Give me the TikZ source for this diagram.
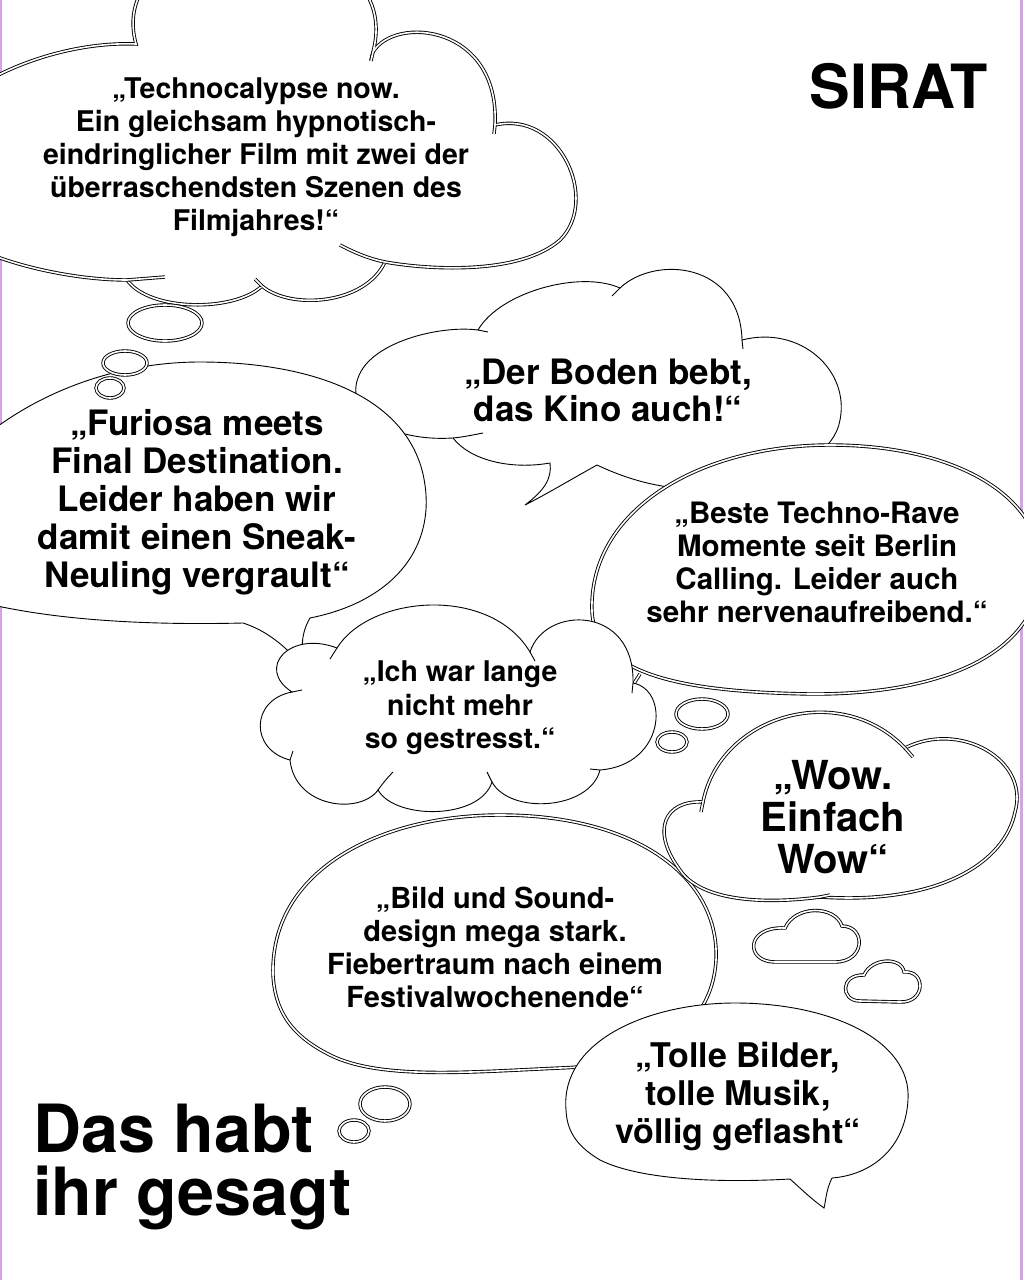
\documentclass[tikz,border=0pt]{standalone}
\usepackage{fontspec}
\setmainfont{TeX Gyre Heros}
\definecolor{lilac}{RGB}{214,160,238}
\newcommand{\qfont}[2]{\fontsize{#1}{#2}\selectfont\bfseries}
\tikzstyle{quote} = [
  align=center,
  inner sep=0pt,
]
\tikzstyle{cloud} = [
  draw,
  fill=white,
  line width=0.9pt,
]
\tikzstyle{doublecloud} = [
  draw,
  fill=white,
  double,
  double distance=1.6pt,
  line width=0.9pt,
]
\tikzstyle{hook} = [
  draw,
  double,
  double distance=1.6pt,
  line width=0.9pt,
]
\tikzstyle{thinhook} = [
  draw,
  line width=0.9pt,
]
\tikzstyle{edgeline} = [
  draw=lilac,
  line width=2.5pt,
]

\begin{document}
\begin{tikzpicture}[
    x=1pt,
    y=-1pt,
  ]
  \useasboundingbox (0,0) rectangle (1024,1280);
  \clip (0,0) rectangle (1024,1280);
  \draw[edgeline] (1.2,0) -- (1.2,1280);
  \draw[edgeline] (1021.5,0) -- (1021.5,1280);

  \path[doublecloud] (-20,85)
    .. controls (30,55) and (90,42) .. (136,44)
    .. controls (100,-90) and (410,-90) .. (373,52)
    .. controls (395,15) and (500,25) .. (495,125)
    .. controls (560,110) and (600,200) .. (560,240)
    .. controls (520,275) and (430,270) .. (385,262)
    .. controls (365,305) and (290,310) .. (262,286)
    .. controls (235,312) and (150,312) .. (127,280)
    .. controls (80,280) and (20,268) .. (-20,250)
    -- cycle;
  \path[hook] (373,52) -- (371,61);
  \path[hook] (495,125) -- (494,134);
  \path[hook] (385,262) .. controls (370,259) and (355,253) .. (340,245);
  \path[hook] (262,286) -- (255,279);
  \path[hook] (127,280) .. controls (140,279) and (152,278) .. (165,277);

  \path[cloud] (453,438)
    .. controls (390,442) and (345,412) .. (358,378)
    .. controls (370,342) and (440,325) .. (478,330)
    .. controls (500,292) and (580,270) .. (620,288)
    .. controls (655,255) and (740,262) .. (742,340)
    .. controls (800,325) and (850,370) .. (840,420)
    .. controls (835,450) and (800,470) .. (760,475)
    .. controls (720,495) and (660,495) .. (597,465)
    .. controls (570,480) and (545,495) .. (525,505)
    .. controls (545,490) and (552,478) .. (550,463)
    .. controls (510,470) and (470,460) .. (453,438)
    -- cycle;
  \path[thinhook] (453,438) .. controls (463,437) and (473,435) .. (483,433);
  \path[thinhook] (478,330) -- (488,332);
  \path[thinhook] (620,288) -- (612,296);
  \path[thinhook] (742,340) -- (743,349);

  \path[doublecloud] (592,612)
    .. controls (588,510) and (700,445) .. (830,445)
    .. controls (960,445) and (1050,500) .. (1040,580)
    .. controls (1030,660) and (930,695) .. (810,694)
    .. controls (700,692) and (596,680) .. (592,612)
    -- cycle;
  \path[hook] (640,674) .. controls (636,680) and (633,685) .. (630,690);

  \path[cloud] (-20,440)
    .. controls (40,390) and (120,362) .. (200,362)
    .. controls (300,362) and (400,390) .. (422,470)
    .. controls (440,540) and (400,600) .. (310,618)
    .. controls (300,635) and (302,650) .. (303,667)
    .. controls (285,645) and (265,630) .. (243,623)
    .. controls (160,625) and (60,622) .. (-20,602)
    -- cycle;
  \draw[doublecloud] (165,323) ellipse [x radius=37, y radius=18];
  \draw[doublecloud] (125,363) ellipse [x radius=22, y radius=12];
  \draw[doublecloud] (110,388) ellipse [x radius=14, y radius=10];

  \path[cloud] (292,692)
    .. controls (255,668) and (290,630) .. (337,648)
    .. controls (370,595) and (490,585) .. (530,652)
    .. controls (545,605) and (635,605) .. (633,683)
    .. controls (670,690) and (665,765) .. (600,770)
    .. controls (590,810) and (510,815) .. (492,782)
    .. controls (480,820) and (395,820) .. (378,790)
    .. controls (360,815) and (295,808) .. (290,760)
    .. controls (250,750) and (250,700) .. (292,692)
    -- cycle;
  \path[thinhook] (337,648) -- (330,659);
  \path[thinhook] (530,652) -- (535,661);
  \path[thinhook] (633,683) -- (632,693);
  \path[thinhook] (600,770) -- (590,769);
  \path[thinhook] (492,782) -- (487,772);
  \path[thinhook] (378,790) .. controls (383,783) and (388,777) .. (393,772);
  \path[thinhook] (290,760) -- (293,751);
  \path[thinhook] (292,692) -- (302,690);
  \draw[doublecloud] (702,714) ellipse [x radius=26, y radius=15];
  \draw[doublecloud] (672,742) ellipse [x radius=15, y radius=10];

  \path[doublecloud] (273,975)
    .. controls (270,870) and (380,815) .. (500,815)
    .. controls (640,815) and (720,880) .. (716,960)
    .. controls (712,1030) and (650,1065) .. (560,1068)
    .. controls (470,1072) and (380,1080) .. (330,1055)
    .. controls (290,1035) and (275,1010) .. (273,975)
    -- cycle;

  \path[doublecloud] (703,802)
    .. controls (720,715) and (840,680) .. (905,748)
    .. controls (960,720) and (1030,760) .. (1015,812)
    .. controls (1005,862) and (940,905) .. (820,897)
    .. controls (760,905) and (700,900) .. (680,870)
    .. controls (650,830) and (665,800) .. (703,802)
    -- cycle;
  \path[hook] (905,748) -- (913,757);
  \path[hook] (820,897) -- (830,895);
  \path[hook] (703,802) -- (701,812);
  \path[doublecloud] (775,962)
    .. controls (745,962) and (745,926) .. (785,928)
    .. controls (795,905) and (835,905) .. (842,926)
    .. controls (866,926) and (866,962) .. (835,962)
    -- cycle;
  \path[doublecloud] (860,1001)
    .. controls (840,1001) and (840,974) .. (864,975)
    .. controls (872,957) and (902,957) .. (904,972)
    .. controls (926,970) and (926,1003) .. (900,1002)
    -- cycle;

  \path[cloud] (566,1110)
    .. controls (560,1040) and (650,1003) .. (735,1003)
    .. controls (830,1003) and (912,1040) .. (908,1100)
    .. controls (905,1150) and (870,1175) .. (832,1178)
    .. controls (826,1190) and (826,1200) .. (824,1208)
    .. controls (810,1198) and (798,1186) .. (790,1179)
    .. controls (720,1183) and (640,1180) .. (600,1160)
    .. controls (575,1145) and (567,1130) .. (566,1110)
    -- cycle;
  \draw[doublecloud] (385,1104) ellipse [x radius=25, y radius=17];
  \draw[doublecloud] (354,1131) ellipse [x radius=15, y radius=11];

  \node[quote, font=\qfont{28.5}{33}]
    (technocalypse) at (256,157)
    {„Technocalypse now.\\Ein gleichsam hypnotisch-\\eindringlicher Film mit zwei der\\überraschendsten Szenen des\\Filmjahres!“};
  \node[quote, font=\qfont{35}{37}]
    (boden) at (608,390)
    {„Der Boden bebt,\\das Kino auch!“};
  \node[quote, font=\qfont{35}{38}]
    (furiosa) at (197,502)
    {„Furiosa meets\\Final Destination.\\Leider haben wir\\damit einen Sneak-\\Neuling vergrault“};
  \node[quote, font=\qfont{29.5}{33}]
    (beste) at (817,562)
    {„Beste Techno-Rave\\Momente seit Berlin\\Calling. Leider auch\\sehr nervenaufreibend.“};
  \node[quote, font=\qfont{28.5}{33.5}]
    (stress) at (460,708)
    {„Ich war lange\\nicht mehr\\so gestresst.“};
  \node[quote, font=\qfont{40}{42}]
    (wow) at (833,817)
    {„Wow.\\Einfach\\Wow“};
  \node[quote, font=\qfont{29}{33}]
    (bild) at (495,947)
    {„Bild und Sound-\\design mega stark.\\Fiebertraum nach einem\\Festivalwochenende“};
  \node[quote, font=\qfont{34}{38}]
    (tolle) at (738,1097)
    {„Tolle Bilder,\\tolle Musik,\\völlig geflasht“};
  \node[quote, anchor=base east, font=\qfont{61}{61}]
    (sirat) at (988,108)
    {SIRAT};
  \node[quote, align=left, anchor=north west, font=\qfont{66.5}{63}]
    (title) at (33,1104)
    {Das habt\\ihr gesagt};
\end{tikzpicture}
\end{document}
